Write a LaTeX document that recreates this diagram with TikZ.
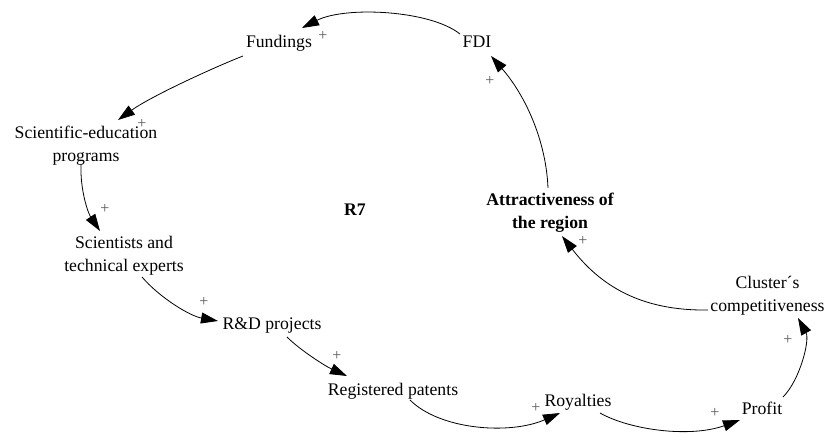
\documentclass[tikz,border=0pt]{standalone}
\usepackage{fontspec}
\setmainfont{Liberation Serif}
\usetikzlibrary{arrows.meta}
\begin{document}
\begin{tikzpicture}[x=1pt,y=-1pt,
  var/.style={inner sep=0pt, align=center, font=\fontsize{17.7pt}{22.8pt}\selectfont},
  boldvar/.style={var, font=\fontsize{17.7pt}{22.8pt}\selectfont\bfseries},
  pol/.style={inner sep=0pt, text=black!65, font=\fontsize{16pt}{16pt}\selectfont},
  link/.style={draw=black, line width=0.8pt, -{Triangle[length=17pt,width=11pt]}}]
\useasboundingbox (0,0) rectangle (827,433);

% variables
\node[var] (fdi) at (477,42) {FDI};
\node[var] (fund) at (279,43) {Fundings};
\node[var] (scied) at (86,146) {Scientific-education\\programs};
\node[var] (sci) at (124,256) {Scientists and\\technical experts};
\node[var] (rd) at (272,325) {R\&D projects};
\node[var] (reg) at (393,391) {Registered patents};
\node[var] (roy) at (578,402) {Royalties};
\node[var] (profit) at (762,408) {Profit};
\node[var] (clus) at (767.5,296) {Cluster´s\\competitiveness};
\node[boldvar] (attr) at (550,213) {Attractiveness of\\the region};
\node[boldvar] (loop) at (355,210) {R7};

% causal links
\draw[link] ([shift={(-17,-8)}]fdi.center) .. controls (430,10) and (345,6) .. ([shift={(23,-15)}]fund.center);
\draw[link] ([shift={(-36,13)}]fund.center) .. controls (210,69) and (150,97) .. ([shift={(32,-26)}]scied.center);
\draw[link] ([shift={(-5,18)}]scied.center) .. controls (80,190) and (88,213) .. ([shift={(-24,-25)}]sci.center);
\draw[link] ([shift={(18,21)}]sci.center) .. controls (160,298) and (190,316) .. ([shift={(-54,-4)}]rd.center);
\draw[link] ([shift={(15,12)}]rd.center) .. controls (300,350) and (325,366) .. ([shift={(-46,-15)}]reg.center);
\draw[link] ([shift={(17,9)}]reg.center) .. controls (440,430) and (510,435) .. ([shift={(-18,11)}]roy.center);
\draw[link] ([shift={(22,11)}]roy.center) .. controls (630,430) and (690,438) .. ([shift={(-22,12)}]profit.center);
\draw[link] ([shift={(21,-11)}]profit.center) .. controls (800,380) and (810,340) .. ([shift={(30.5,22)}]clus.center);
\draw[link] ([shift={(-59.5,14)}]clus.center) .. controls (640,311) and (600,285) .. ([shift={(12,23)}]attr.center);
\draw[link] ([shift={(-2,-25)}]attr.center) .. controls (546,140) and (525,95) .. ([shift={(14,14)}]fdi.center);

% link polarities
\node[pol] (p1) at (323,36) {+};
\node[pol] (p2) at (142,124) {+};
\node[pol] (p3) at (105,209) {+};
\node[pol] (p4) at (204,302) {+};
\node[pol] (p5) at (337,356) {+};
\node[pol] (p6) at (536,408) {+};
\node[pol] (p7) at (715,413) {+};
\node[pol] (p8) at (788,340) {+};
\node[pol] (p9) at (583,241) {+};
\node[pol] (p10) at (490,81) {+};
\end{tikzpicture}
\end{document}
